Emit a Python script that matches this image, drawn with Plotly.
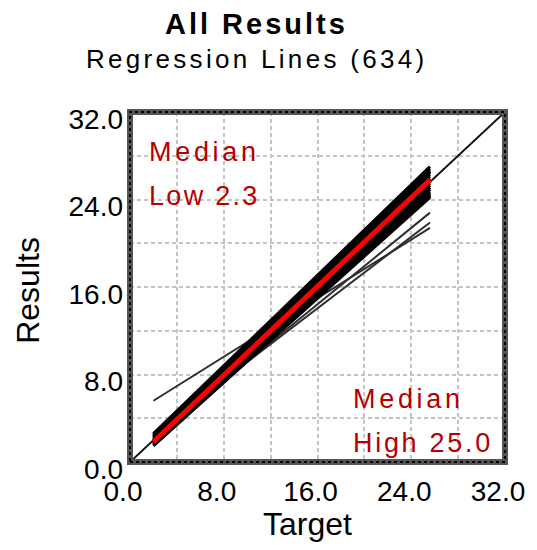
import plotly.graph_objects as go

# ---------------- data ----------------
tick_vals = [0, 8, 16, 24, 32]
tick_text = ["0.0", "8.0", "16.0", "24.0", "32.0"]

target_range = [2.0, 25.6]          # x extent of the drawn regression lines

# bundle of regression lines: Results at start / end of the target range
fan_start = [2.6, 2.5, 2.4, 2.3, 2.2, 2.2, 2.1, 2.0, 2.0, 1.9, 1.9, 1.8, 1.8,
             1.7, 1.7, 1.6, 1.6, 1.5, 1.5, 2.4, 2.0, 1.7]
fan_end = [27.0, 26.8, 26.6, 26.5, 26.3, 26.1, 25.9, 25.7, 25.5, 25.3, 25.1,
           24.9, 24.7, 24.6, 24.5, 24.4, 24.3, 24.2, 24.4, 25.0, 26.6, 25.8]

# the few flatter regression lines
outlier_start = [5.6, 2.6, 2.2]
outlier_end = [21.4, 21.9, 22.8]

median_line = [1.85, 25.8]

identity = [0, 32]

W, H = 537, 550
L, R, T, B = 130, 508, 112, 462   # plot area in pixels


def px(xp):
    return (xp - L) / (R - L)


def py(yp):
    return (B - yp) / (B - T)


FONT = "Liberation Sans, Arial, sans-serif"
RED = "#b40000"

fig = go.Figure()

# identity line
fig.add_trace(go.Scatter(x=identity, y=identity, mode="lines",
                         line=dict(color="#111111", width=2),
                         hoverinfo="skip", showlegend=False))

# outlier regression lines
xs, ys = [], []
for a, b in zip(outlier_start, outlier_end):
    xs += [target_range[0], target_range[1], None]
    ys += [a, b, None]
fig.add_trace(go.Scatter(x=xs, y=ys, mode="lines",
                         line=dict(color="#2e2e2e", width=2),
                         hoverinfo="skip", showlegend=False))

# main bundle
xs, ys = [], []
for a, b in zip(fan_start, fan_end):
    xs += [target_range[0], target_range[1], None]
    ys += [a, b, None]
fig.add_trace(go.Scatter(x=xs, y=ys, mode="lines",
                         line=dict(color="black", width=3),
                         hoverinfo="skip", showlegend=False))

# median line
fig.add_trace(go.Scatter(x=target_range, y=median_line, mode="lines",
                         line=dict(color="#ff0000", width=5),
                         hoverinfo="skip", showlegend=False))

grid = dict(gridcolor="#c4c4c4", gridwidth=2, griddash="4px,3px")
axis_common = dict(range=[0, 32], tickvals=tick_vals, ticktext=tick_text,
                   showgrid=True, zeroline=False, showline=False, ticks="",
                   tickfont=dict(family=FONT, size=28, color="black"),
                   minor=dict(tickvals=[4, 12, 20, 28], showgrid=True, **grid),
                   **grid)

fig.update_layout(
    width=W, height=H,
    margin=dict(l=L, r=W - R, t=T, b=H - B),
    paper_bgcolor="white", plot_bgcolor="white",
    xaxis=dict(**axis_common, ticklabelshift=-7, ticklabelstandoff=10),
    yaxis=dict(**axis_common, ticklabelshift=7, ticklabelstandoff=6),
    showlegend=False,
)

# plot border: thick dark gray frame with black dashes
fig.add_shape(type="rect", xref="paper", yref="paper", x0=0, y0=0, x1=1, y1=1,
              line=dict(color="#555555", width=6))
fig.add_shape(type="rect", xref="paper", yref="paper", x0=0, y0=0, x1=1, y1=1,
              line=dict(color="black", width=2, dash="3px,3px"))


def sp(t, s):
    return f'<span style="letter-spacing:{s}px">{t}</span>'


ann = []
ann.append(dict(text="<b>" + sp("All Results", 3) + "</b>", x=px(258), y=py(24),
                font=dict(family=FONT, size=29, color="black")))
ann.append(dict(text=sp("Regression Lines (634)", 3.3), x=px(258), y=py(59),
                font=dict(family=FONT, size=26, color="black")))
ann.append(dict(text="Target", x=px(309), y=py(524),
                font=dict(family=FONT, size=32, color="black")))
ann.append(dict(text="Results", x=px(27), y=py(290), textangle=-90,
                font=dict(family=FONT, size=32, color="black")))
for t, xp, yp, s in [("Median", 147, 151.5, 3.7), ("Low 2.3", 147, 196, 2.3),
                     ("Median", 353, 399, 3.7), ("High 25.0", 353, 443, 2.7)]:
    ann.append(dict(text=sp(t, s), x=px(xp), y=py(yp), xanchor="left",
                    font=dict(family=FONT, size=27, color=RED)))

for a in ann:
    a.setdefault("xanchor", "center")
    fig.add_annotation(xref="paper", yref="paper", yanchor="middle",
                       showarrow=False, **a)

fig.write_html("out.html")
